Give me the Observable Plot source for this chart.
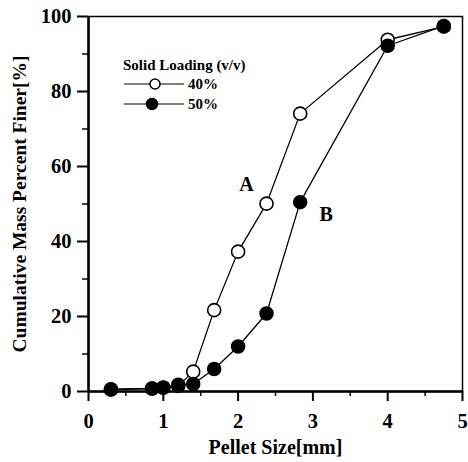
<!DOCTYPE html>
<html><head><meta charset="utf-8">
<script src="https://cdn.jsdelivr.net/npm/d3@7"></script>
<script src="https://cdn.jsdelivr.net/npm/@observablehq/plot@0.6"></script>
<style>body{margin:0;background:#fff}#chart{position:relative;width:468px;height:462px}</style>
</head><body><div id="chart"></div>
<script>
const pelletSize = [0.3, 0.85, 1.0, 1.2, 1.4, 1.68, 2.0, 2.38, 2.83, 4.0, 4.75];
const finer40 = [0.5, 0.8, 1.0, 1.5, 5.3, 21.7, 37.3, 50.1, 74.1, 93.8, 97.3];
const finer50 = [0.6, 0.8, 1.1, 1.8, 2.0, 6.0, 12.0, 20.8, 50.5, 92.2, 97.5];
const xTicks = [0, 1, 2, 3, 4, 5];
const xMinor = [0.5, 1.5, 2.5, 3.5, 4.5];
const yTicks = [0, 20, 40, 60, 80, 100];
const yMinor = [10, 30, 50, 70, 90];
const seriesNames = ["40%", "50%"];
const legendTitle = "Solid Loading (v/v)";
const curveLabels = ["A", "B"];

const d40 = pelletSize.map((x, i) => ({x, y: finer40[i]}));
const d50 = pelletSize.map((x, i) => ({x, y: finer50[i]}));

const font = "'Liberation Serif', 'Times New Roman', serif";
const chart = Plot.plot({
  width: 468, height: 462,
  marginLeft: 88, marginRight: 6, marginTop: 16, marginBottom: 71,
  style: {fontFamily: font, fontWeight: "bold", fontSize: "20px", background: "#fff", color: "#000"},
  x: {domain: [0, 5]},
  y: {domain: [0, 100]},
  marks: [
    Plot.frame({stroke: "#000", strokeWidth: 1.5}),
    Plot.ruleX([0], {stroke: "#000", strokeWidth: 2.5}),
    Plot.ruleY([0], {stroke: "#000", strokeWidth: 2.5}),
    Plot.axisX(xTicks, {tickSize: 10, tickPadding: 12, strokeWidth: 2, fontSize: 20.5, label: "Pellet Size[mm]", labelAnchor: "center", labelArrow: "none", labelOffset: 62}),
    Plot.axisX(xMinor, {tickSize: 5, strokeWidth: 1.5, tickFormat: () => "", label: null}),
    Plot.axisY(yTicks, {tickSize: 11, tickPadding: 6, strokeWidth: 2, fontSize: 20.5, label: "Cumulative Mass Percent Finer[%]", labelAnchor: "center", labelArrow: "none", labelOffset: 76}),
    Plot.axisY(yMinor, {tickSize: 6, strokeWidth: 1.5, tickFormat: () => "", label: null}),
    Plot.line(d40, {x: "x", y: "y", stroke: "#000", strokeWidth: 1.3}),
    Plot.line(d50, {x: "x", y: "y", stroke: "#000", strokeWidth: 1.3}),
    Plot.dot(d40, {x: "x", y: "y", r: 6.5, fill: "#fff", stroke: "#000", strokeWidth: 1.6}),
    Plot.dot(d50, {x: "x", y: "y", r: 6.5, fill: "#000", stroke: "#000"}),
    Plot.text([d40[7]], {x: "x", y: "y", text: () => curveLabels[0], dx: -20, dy: -19, fontSize: 20, fontWeight: "bold"}),
    Plot.text([d50[8]], {x: "x", y: "y", text: () => curveLabels[1], dx: 26, dy: 12, fontSize: 20, fontWeight: "bold"})
  ]
});
document.getElementById("chart").appendChild(chart);

// Legend inside the plot area
const svg = d3.select(chart);
const g = svg.append("g").attr("font-family", font).attr("font-weight", "bold")
  .attr("font-size", 15).attr("text-anchor", "start");
g.append("text").attr("x", 123).attr("y", 70).text(legendTitle);
seriesNames.forEach((name, i) => {
  const yy = 84 + i * 20;
  g.append("line").attr("x1", 124).attr("x2", 184).attr("y1", yy).attr("y2", yy).attr("stroke", "#000").attr("stroke-width", 1.2);
  g.append("circle").attr("cx", i === 0 ? 155 : 152).attr("cy", yy).attr("r", i === 0 ? 5 : 5.5)
    .attr("fill", i === 0 ? "#fff" : "#000").attr("stroke", "#000").attr("stroke-width", 1.5);
  g.append("text").attr("x", 188).attr("y", yy + 5).text(name);
});
// Axis label sizes
svg.selectAll("[aria-label='x-axis label']").attr("font-size", 20);
svg.selectAll("[aria-label='y-axis label']").attr("font-size", 19.5);
</script></body></html>
